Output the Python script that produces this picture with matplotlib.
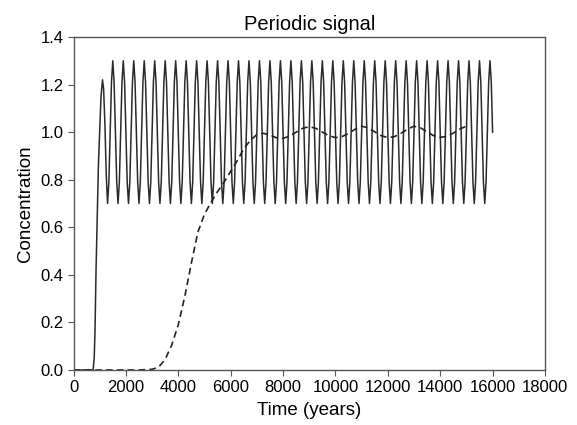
import numpy as np
import matplotlib
matplotlib.use('Agg')
import matplotlib.pyplot as plt

plt.rcParams['font.family'] = ['Liberation Sans', 'DejaVu Sans']

# 주기 신호 (solid): 초기 상승 구간
rise_t = [0, 750, 790, 820, 860, 900, 950, 1000, 1050, 1108, 1150, 1200, 1250, 1300, 1350]
rise_v = [0.0, 0.0, 0.05, 0.16, 0.42, 0.62, 0.86, 1.0, 1.15, 1.22, 1.18, 1.03, 0.82, 0.7, 0.79]

# 주기 신호: 1400~16000년, 50년 간격으로 읽은 값
osc_t = list(range(1400, 16001, 50))
osc_v = [
    1.0, 1.21, 1.3, 1.21, 1.0, 0.79, 0.7, 0.79,
    1.0, 1.21, 1.3, 1.21, 1.0, 0.79, 0.7, 0.79,
    1.0, 1.21, 1.3, 1.21, 1.0, 0.79, 0.7, 0.79,
    1.0, 1.21, 1.3, 1.21, 1.0, 0.79, 0.7, 0.79,
    1.0, 1.21, 1.3, 1.21, 1.0, 0.79, 0.7, 0.79,
    1.0, 1.21, 1.3, 1.21, 1.0, 0.79, 0.7, 0.79,
    1.0, 1.21, 1.3, 1.21, 1.0, 0.79, 0.7, 0.79,
    1.0, 1.21, 1.3, 1.21, 1.0, 0.79, 0.7, 0.79,
    1.0, 1.21, 1.3, 1.21, 1.0, 0.79, 0.7, 0.79,
    1.0, 1.21, 1.3, 1.21, 1.0, 0.79, 0.7, 0.79,
    1.0, 1.21, 1.3, 1.21, 1.0, 0.79, 0.7, 0.79,
    1.0, 1.21, 1.3, 1.21, 1.0, 0.79, 0.7, 0.79,
    1.0, 1.21, 1.3, 1.21, 1.0, 0.79, 0.7, 0.79,
    1.0, 1.21, 1.3, 1.21, 1.0, 0.79, 0.7, 0.79,
    1.0, 1.21, 1.3, 1.21, 1.0, 0.79, 0.7, 0.79,
    1.0, 1.21, 1.3, 1.21, 1.0, 0.79, 0.7, 0.79,
    1.0, 1.21, 1.3, 1.21, 1.0, 0.79, 0.7, 0.79,
    1.0, 1.21, 1.3, 1.21, 1.0, 0.79, 0.7, 0.79,
    1.0, 1.21, 1.3, 1.21, 1.0, 0.79, 0.7, 0.79,
    1.0, 1.21, 1.3, 1.21, 1.0, 0.79, 0.7, 0.79,
    1.0, 1.21, 1.3, 1.21, 1.0, 0.79, 0.7, 0.79,
    1.0, 1.21, 1.3, 1.21, 1.0, 0.79, 0.7, 0.79,
    1.0, 1.21, 1.3, 1.21, 1.0, 0.79, 0.7, 0.79,
    1.0, 1.21, 1.3, 1.21, 1.0, 0.79, 0.7, 0.79,
    1.0, 1.21, 1.3, 1.21, 1.0, 0.79, 0.7, 0.79,
    1.0, 1.21, 1.3, 1.21, 1.0, 0.79, 0.7, 0.79,
    1.0, 1.21, 1.3, 1.21, 1.0, 0.79, 0.7, 0.79,
    1.0, 1.21, 1.3, 1.21, 1.0, 0.79, 0.7, 0.79,
    1.0, 1.21, 1.3, 1.21, 1.0, 0.79, 0.7, 0.79,
    1.0, 1.21, 1.3, 1.21, 1.0, 0.79, 0.7, 0.79,
    1.0, 1.21, 1.3, 1.21, 1.0, 0.79, 0.7, 0.79,
    1.0, 1.21, 1.3, 1.21, 1.0, 0.79, 0.7, 0.79,
    1.0, 1.21, 1.3, 1.21, 1.0, 0.79, 0.7, 0.79,
    1.0, 1.21, 1.3, 1.21, 1.0, 0.79, 0.7, 0.79,
    1.0, 1.21, 1.3, 1.21, 1.0, 0.79, 0.7, 0.79,
    1.0, 1.21, 1.3, 1.21, 1.0, 0.79, 0.7, 0.79,
    1.0, 1.21, 1.3, 1.21, 1.0,
]

# 응답 (dashed)
resp_t = [0, 2500, 3000, 3250, 3500, 3750, 4000, 4250, 4500, 4750, 5000,
          5250, 5500, 5750, 6000, 6250, 6500, 6750, 7000, 7250, 7500,
          7750, 8000, 8250, 8500, 8750, 9000, 9250, 9500, 9750, 10000,
          10250, 10500, 10750, 11000, 11250, 11500, 11750, 12000, 12250,
          12500, 12750, 13000, 13250, 13500, 13750, 14000, 14250, 14500,
          14750, 15000]
resp_v = [0.0, 0.0, 0.003, 0.012, 0.045, 0.105, 0.19, 0.31, 0.45, 0.58, 0.655,
          0.705, 0.75, 0.79, 0.835, 0.88, 0.93, 0.965, 0.99, 0.995, 0.988,
          0.976, 0.974, 0.983, 1.0, 1.016, 1.023, 1.016, 1.0, 0.985, 0.977,
          0.981, 0.995, 1.012, 1.025, 1.018, 1.001, 0.985, 0.977,
          0.981, 0.995, 1.012, 1.025, 1.018, 1.001, 0.985, 0.978, 0.982,
          0.996, 1.013, 1.025]

fig = plt.figure(figsize=(5.77, 4.25), dpi=100)
ax = fig.add_axes([0.1274, 0.1294, 0.8171, 0.7836])

ax.plot(rise_t + osc_t, rise_v + osc_v, color='#2a2a2a', lw=1.1)
ax.plot(resp_t, resp_v, color='#222222', lw=1.2, ls=(0, (4, 2.5)))

ax.set_xlim(0, 18000)
ax.set_ylim(0, 1.4)
ax.set_xticks(np.arange(0, 18001, 2000))
ax.set_yticks(np.arange(0, 1.41, 0.2))
ax.set_yticklabels([f'{v:.1f}' for v in np.arange(0, 1.41, 0.2)])
ax.tick_params(direction='out', length=4, labelsize=12, color='#555555', pad=3)
for s in ax.spines.values():
    s.set_color('#555555')
    s.set_linewidth(1.0)

ax.set_title('Periodic signal', fontsize=14.5, pad=5)
ax.set_xlabel('Time (years)', fontsize=13.5, labelpad=5)
ax.set_ylabel('Concentration', fontsize=13.5, labelpad=5)

plt.savefig('out.png', dpi=100)
